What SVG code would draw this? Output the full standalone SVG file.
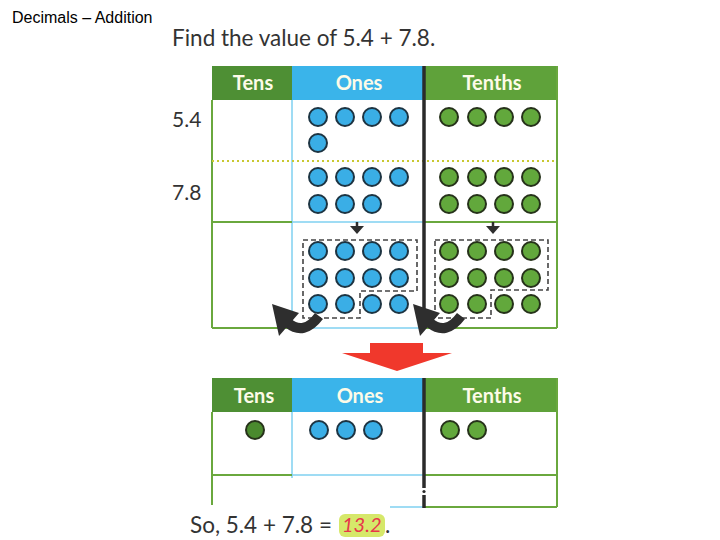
<svg xmlns="http://www.w3.org/2000/svg" width="720" height="540" viewBox="0 0 720 540">
<defs>
<style>
.t{font-family:Lato,"Open Sans","Liberation Sans",sans-serif;fill:#333;font-size:22.5px}
.l{font-family:Lato,"Open Sans","Liberation Sans",sans-serif;fill:#333;font-size:21px}
.h{font-family:Lato,"Open Sans","Liberation Sans",sans-serif;font-weight:bold;fill:#fdfbe8;font-size:20px;text-anchor:middle}
.g{stroke:#6aa83e;stroke-width:2;fill:none}
.b{stroke:#7fd0f0;stroke-width:1.5;fill:none}
.k{stroke:#2b2b2b;stroke-width:3.5;fill:none}
.bc{fill:#3aaee6;stroke:#1d3442;stroke-width:2}
.gc{fill:#62a83c;stroke:#26321a;stroke-width:2}
.dash{fill:none;stroke:#444;stroke-width:1.6;stroke-dasharray:5,3}
.curv{fill:none;stroke:#2e2e2e;stroke-width:10}
.ah{fill:#2e2e2e}
</style>
</defs>
<rect width="720" height="540" fill="#fff"/>
<text x="12" y="23" font-family="'Liberation Sans',Arial,sans-serif" font-size="16" fill="#000">Decimals – Addition</text>
<text class="t" x="172" y="46">Find the value of 5.4 + 7.8.</text>

<g id="top-table">
<rect x="212" y="66" width="80" height="34" fill="#4e8f34"/>
<rect x="292" y="66" width="132" height="34" fill="#3ab4ea"/>
<rect x="424" y="66" width="133" height="34" fill="#5fa23a"/>
<text class="h" x="253" y="90">Tens</text>
<text class="h" x="359" y="90">Ones</text>
<text class="h" x="492" y="90">Tenths</text>
<line class="g" x1="212" y1="100" x2="212" y2="328"/>
<line class="g" x1="557" y1="66" x2="557" y2="328"/>
<line class="b" x1="292" y1="100" x2="292" y2="328"/>
<line x1="212" y1="161" x2="557" y2="161" stroke="#c8c830" stroke-width="2" stroke-dasharray="2,3"/>
<line class="g" x1="212" y1="222" x2="292" y2="222"/>
<line class="b" x1="292" y1="222" x2="424" y2="222"/>
<line class="g" x1="424" y1="222" x2="557" y2="222"/>
<line class="g" x1="212" y1="328" x2="292" y2="328"/>
<line class="b" x1="292" y1="328" x2="424" y2="328"/>
<line class="g" x1="424" y1="328" x2="557" y2="328"/>
<line class="k" x1="424" y1="66" x2="424" y2="328"/>
<text class="l" x="172" y="127">5.4</text>
<text class="l" x="172" y="200">7.8</text>
</g>

<g id="row-5-4">
<circle class="bc" cx="318" cy="117" r="9"/><circle class="bc" cx="345" cy="117" r="9"/><circle class="bc" cx="372" cy="117" r="9"/><circle class="bc" cx="399" cy="117" r="9"/>
<circle class="bc" cx="318" cy="143" r="9"/>
<circle class="gc" cx="449" cy="117" r="9"/><circle class="gc" cx="477" cy="117" r="9"/><circle class="gc" cx="504" cy="117" r="9"/><circle class="gc" cx="531" cy="117" r="9"/>
</g>

<g id="row-7-8">
<circle class="bc" cx="318" cy="177" r="9"/><circle class="bc" cx="345" cy="177" r="9"/><circle class="bc" cx="372" cy="177" r="9"/><circle class="bc" cx="399" cy="177" r="9"/>
<circle class="bc" cx="318" cy="204" r="9"/><circle class="bc" cx="345" cy="204" r="9"/><circle class="bc" cx="372" cy="204" r="9"/>
<circle class="gc" cx="449" cy="177" r="9"/><circle class="gc" cx="477" cy="177" r="9"/><circle class="gc" cx="504" cy="177" r="9"/><circle class="gc" cx="531" cy="177" r="9"/>
<circle class="gc" cx="449" cy="204" r="9"/><circle class="gc" cx="477" cy="204" r="9"/><circle class="gc" cx="504" cy="204" r="9"/><circle class="gc" cx="531" cy="204" r="9"/>
</g>

<g id="row-sum">
<polygon class="ah" points="350,226 364,226 357,234"/>
<line x1="357" y1="222" x2="357" y2="228" stroke="#2e2e2e" stroke-width="2.5"/>
<polygon class="ah" points="486,226 500,226 493,234"/>
<line x1="493" y1="222" x2="493" y2="228" stroke="#2e2e2e" stroke-width="2.5"/>
<polygon class="dash" points="303,240 417,240 417,291 360,291 360,318 303,318"/>
<polygon class="dash" points="435,240 548,240 548,290 491,290 491,318 435,318"/>
<circle class="bc" cx="318" cy="251" r="9"/><circle class="bc" cx="345" cy="251" r="9"/><circle class="bc" cx="372" cy="251" r="9"/><circle class="bc" cx="399" cy="251" r="9"/>
<circle class="bc" cx="318" cy="278" r="9"/><circle class="bc" cx="345" cy="278" r="9"/><circle class="bc" cx="372" cy="278" r="9"/><circle class="bc" cx="399" cy="278" r="9"/>
<circle class="bc" cx="318" cy="304" r="9"/><circle class="bc" cx="345" cy="304" r="9"/><circle class="bc" cx="372" cy="304" r="9"/><circle class="bc" cx="399" cy="304" r="9"/>
<circle class="gc" cx="449" cy="251" r="9"/><circle class="gc" cx="477" cy="251" r="9"/><circle class="gc" cx="504" cy="251" r="9"/><circle class="gc" cx="531" cy="251" r="9"/>
<circle class="gc" cx="449" cy="278" r="9"/><circle class="gc" cx="477" cy="278" r="9"/><circle class="gc" cx="504" cy="278" r="9"/><circle class="gc" cx="531" cy="278" r="9"/>
<circle class="gc" cx="449" cy="304" r="9"/><circle class="gc" cx="477" cy="304" r="9"/><circle class="gc" cx="504" cy="304" r="9"/><circle class="gc" cx="531" cy="304" r="9"/>
</g>

<g id="connectors">
<path class="curv" d="M319,316 Q304,336 288,323"/>
<polygon class="ah" points="272,304 299,313 279,336"/>
<path class="curv" d="M461,316 Q446,336 430,323"/>
<polygon class="ah" points="413,304 440,313 420,336"/>
<polygon fill="#f0382c" points="370,343 423,343 423,353 452,353 397,371 342,353 370,353"/>
</g>

<g id="bottom-table">
<rect x="212" y="378" width="80" height="34" fill="#4e8f34"/>
<rect x="292" y="378" width="132" height="34" fill="#3ab4ea"/>
<rect x="424" y="378" width="133" height="34" fill="#5fa23a"/>
<text class="h" x="254" y="403">Tens</text>
<text class="h" x="360" y="403">Ones</text>
<text class="h" x="492" y="403">Tenths</text>
<line class="g" x1="212" y1="412" x2="212" y2="505"/>
<line class="g" x1="557" y1="378" x2="557" y2="507"/>
<line class="b" x1="292" y1="412" x2="292" y2="478"/>
<line class="g" x1="212" y1="475" x2="292" y2="475"/>
<line class="b" x1="292" y1="475" x2="424" y2="475"/>
<line class="g" x1="424" y1="475" x2="557" y2="475"/>
<line class="b" x1="390" y1="507" x2="424" y2="507"/>
<line class="g" x1="424" y1="507" x2="557" y2="507"/>
<line class="k" x1="424" y1="378" x2="424" y2="488"/>
<line class="k" x1="424" y1="495" x2="424" y2="508"/>
<circle cx="424" cy="491.5" r="1.6" fill="#2b2b2b"/>
<circle cx="255" cy="430" r="9" fill="#4a8a2e" stroke="#26321a" stroke-width="2"/>
<circle class="bc" cx="319" cy="430" r="9"/><circle class="bc" cx="346" cy="430" r="9"/><circle class="bc" cx="373" cy="430" r="9"/>
<circle class="gc" cx="450" cy="430" r="9"/><circle class="gc" cx="477" cy="430" r="9"/>
</g>

<g id="answer">
<text class="t" x="190" y="533">So, 5.4 + 7.8 =</text>
<rect x="339" y="514" width="46" height="23" rx="6" fill="#d6e86a"/>
<text x="342" y="532" font-family="Lato,'Liberation Sans',sans-serif" font-style="italic" font-size="20" fill="#e8364a">13.2</text>
<text class="t" x="385" y="533">.</text>
</g>
</svg>
